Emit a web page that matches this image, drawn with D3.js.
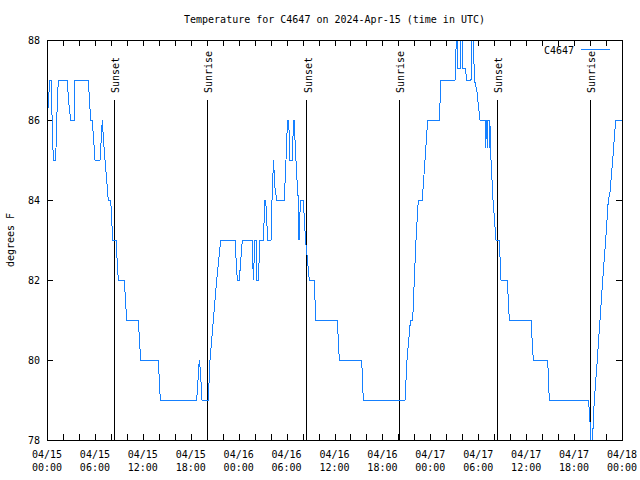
<!DOCTYPE html>
<html>
<head>
<meta charset="utf-8">
<script src="https://cdn.jsdelivr.net/npm/d3@7"></script>
<style>
  html, body { margin: 0; padding: 0; background: #fff; }
  text { font-family: "DejaVu Sans Mono", monospace; font-size: 10px; fill: #000; }
</style>
</head>
<body>
<svg id="chart" width="640" height="480"></svg>
<script>
// ---- data (hours since 2024-04-15 00:00 UTC, degrees F) ----
const hours = [
  0, 0.125, 0.25, 0.376, 0.501, 0.789, 1.089, 1.215, 1.415, 2.542, 2.692, 2.968, 3.418, 3.506,
  5.172, 5.472, 5.672, 6.010, 6.637, 6.925, 7.075, 7.263, 7.676, 7.976, 8.227, 8.640, 8.928,
  9.679, 9.980, 11.432, 11.733, 13.937, 14.187, 18.745, 19.071, 19.221, 19.409, 20.198, 20.410,
  20.824, 21.249, 21.750, 23.541, 23.829, 24.080, 24.455, 25.708, 25.833, 26.045, 26.170, 26.296,
  26.459, 26.671, 27.085, 27.297, 27.385, 27.635, 28.049, 28.174, 28.362, 28.550, 28.762, 29.714,
  29.927, 30.115, 30.240, 30.365, 30.428, 30.716, 30.866, 30.929, 31.054, 31.242, 31.467, 31.555,
  31.680, 31.768, 32.094, 32.369, 32.619, 32.845, 33.471, 33.647, 36.351, 36.602, 39.407, 39.607,
  44.828, 45.078, 45.517, 45.792, 45.993, 46.205, 46.493, 46.994, 47.332, 47.670, 49.123, 49.336,
  51.089, 51.252, 51.377, 51.464, 51.752, 51.840, 52.003, 52.090, 52.403, 52.529, 53.092, 53.217,
  53.380, 53.530, 53.843, 54.219, 54.920, 54.960, 55.000, 55.120, 55.160, 55.200, 55.370, 55.410,
  55.450, 55.596, 55.847, 56.035, 56.223, 56.636, 56.849, 57.638, 57.888, 60.605, 60.893, 62.696,
  62.897, 67.780, 67.930, 68.118, 68.306, 68.532, 68.907, 69.245, 69.584, 69.959, 70.285, 70.498,
  70.835, 71.210, 72.0
];
const temps = [
  86, 86.3, 86.7, 87, 87, 85, 85, 86, 87, 87, 86.5, 86, 86, 87,
  87, 86, 86, 85, 85, 86, 85.5, 85, 84, 84, 83, 83, 82,
  82, 81, 81, 80, 80, 79, 79, 80, 79.7, 79, 79, 80,
  81, 82, 83, 83, 82, 82, 83, 83, 82, 83, 83, 82,
  82, 83, 83, 84, 84, 83, 83, 84, 85, 84.3, 84, 84,
  85, 86, 86, 85.5, 85, 85, 86, 86, 85.5, 84.7, 84, 83,
  83.7, 84, 84, 83, 82.5, 82, 82, 81, 81, 80, 80, 79,
  79, 80, 81, 81, 82, 83, 84, 84, 85, 86, 86, 87,
  87, 88, 88, 87.3, 87.3, 88, 88, 87.3, 87.3, 87, 87, 88,
  88, 87, 86.7, 86, 86, 85.3, 86, 86, 85.3, 86, 86, 85.3,
  86, 85, 84, 83.5, 83, 83, 82, 82, 81, 81, 80, 80,
  79, 79, 78.7, 78, 78, 79, 80, 81, 82, 83, 84, 84.2,
  85, 86, 86
];
const sunHours = [8.43, 20.07, 32.52, 44.11, 56.39, 68.03];
const sunLabels = ["Sunset", "Sunrise", "Sunset", "Sunrise", "Sunset", "Sunrise"];
const xTickHours = [0, 6, 12, 18, 24, 30, 36, 42, 48, 54, 60, 66, 72];
const xTickDates = ["04/15","04/15","04/15","04/15","04/16","04/16","04/16","04/16","04/17","04/17","04/17","04/17","04/18"];
const xTickTimes = ["00:00","06:00","12:00","18:00","00:00","06:00","12:00","18:00","00:00","06:00","12:00","18:00","00:00"];
const yTicks = [78, 80, 82, 84, 86, 88];
const seriesName = "C4647";
const titleText = "Temperature for C4647 on 2024-Apr-15 (time in UTC)";
const yLabel = "degrees F";

// ---- layout ----
const L = 47, R = 622, T = 40, B = 440;
const svg = d3.select("#chart");
const x = d3.scaleLinear().domain([0, 72]).range([L, R]);
const y = d3.scaleLinear().domain([78, 88]).range([B, T]);
const lineColor = "#1580ff";

// clip
svg.append("defs").append("clipPath").attr("id", "clip")
  .append("rect").attr("x", L).attr("y", T - 1).attr("width", R - L).attr("height", B - T + 2);

// axes ticks (inward, mirrored)
const minorX = d3.range(0, 73, 2);
function styleAxis(g) {
  g.select(".domain").remove();
  g.selectAll("line").attr("stroke", "#000").attr("shape-rendering", "crispEdges");
  g.selectAll("text").remove();
}
svg.append("g").attr("transform", `translate(0,${B})`)
  .call(d3.axisBottom(x).tickValues(minorX).tickSize(-6).tickFormat("")).call(styleAxis);
svg.append("g").attr("transform", `translate(0,${T})`)
  .call(d3.axisTop(x).tickValues(minorX).tickSize(-6).tickFormat("")).call(styleAxis);
svg.append("g").attr("transform", `translate(${L},0)`)
  .call(d3.axisLeft(y).tickValues(yTicks).tickSize(-6).tickFormat("")).call(styleAxis);
svg.append("g").attr("transform", `translate(${R},0)`)
  .call(d3.axisRight(y).tickValues(yTicks).tickSize(-6).tickFormat("")).call(styleAxis);

// y tick labels
svg.append("g").selectAll("text").data(yTicks).join("text")
  .attr("x", L - 7).attr("y", d => y(d)).attr("dy", "0.35em")
  .attr("text-anchor", "end").text(d => d);

// x tick labels (two lines)
const xl = svg.append("g").selectAll("text").data(xTickHours).join("text")
  .attr("text-anchor", "middle");
xl.append("tspan").attr("x", d => x(d)).attr("y", 458).text((d, i) => xTickDates[i]);
xl.append("tspan").attr("x", d => x(d)).attr("y", 471).text((d, i) => xTickTimes[i]);

// sunrise / sunset lines
svg.append("g").selectAll("line").data(sunHours).join("line")
  .attr("x1", d => x(d)).attr("x2", d => x(d))
  .attr("y1", 100).attr("y2", B)
  .attr("stroke", "#000").attr("shape-rendering", "crispEdges");
svg.append("g").selectAll("text").data(sunHours).join("text")
  .attr("transform", d => `translate(${x(d) + 5},93) rotate(-90)`)
  .attr("text-anchor", "start")
  .text((d, i) => sunLabels[i]);

// data line
const pts = hours.map((h, i) => [h, temps[i]]);
svg.append("path").datum(pts)
  .attr("clip-path", "url(#clip)")
  .attr("fill", "none").attr("stroke", lineColor).attr("stroke-width", 1)
  .attr("shape-rendering", "crispEdges")
  .attr("d", d3.line().x(d => x(d[0])).y(d => y(d[1])));

// border
svg.append("rect").attr("x", L).attr("y", T).attr("width", R - L).attr("height", B - T)
  .attr("fill", "none").attr("stroke", "#000").attr("shape-rendering", "crispEdges");

// title
svg.append("text").attr("x", (L + R) / 2).attr("y", 23).attr("text-anchor", "middle").text(titleText);

// y label
svg.append("text").attr("transform", `translate(14,${(T + B) / 2}) rotate(-90)`)
  .attr("text-anchor", "middle").text(yLabel);

// legend
svg.append("text").attr("x", 574).attr("y", 54).attr("text-anchor", "end").text(seriesName);
svg.append("line").attr("x1", 581).attr("x2", 610).attr("y1", 49.5).attr("y2", 49.5)
  .attr("stroke", lineColor).attr("shape-rendering", "crispEdges");
</script>
</body>
</html>
